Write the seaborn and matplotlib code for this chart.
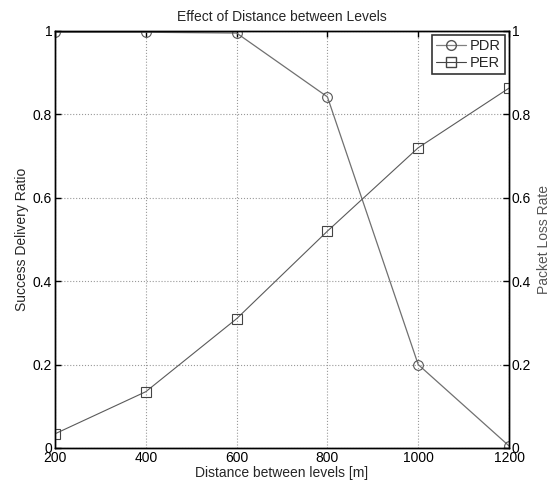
import matplotlib
matplotlib.use('Agg')
import matplotlib.pyplot as plt
import seaborn as sns
import pandas as pd
from matplotlib.lines import Line2D

distance = [200, 400, 600, 800, 1000, 1200]
pdr = [0.997, 0.997, 0.995, 0.842, 0.200, 0.005]
per = [0.034, 0.135, 0.310, 0.520, 0.720, 0.863]

sns.set_style('white')
plt.rcParams['font.family'] = ['Liberation Sans', 'DejaVu Sans']
plt.rcParams['font.size'] = 10

df = pd.DataFrame({'distance': distance, 'PDR': pdr, 'PER': per})

fig = plt.figure(figsize=(5.54, 4.84), dpi=100)
ax = fig.add_axes([0.0993, 0.0744, 0.8195, 0.8616])
ax2 = ax.twinx()

sns.lineplot(data=df, x='distance', y='PDR', ax=ax, color='#707070', lw=0.9,
             marker='o', markersize=7, markerfacecolor='none',
             markeredgecolor='#555555', markeredgewidth=0.8)
sns.lineplot(data=df, x='distance', y='PER', ax=ax2, color='#5a5a5a', lw=0.8,
             marker='s', markersize=7, markerfacecolor='none',
             markeredgecolor='#444444', markeredgewidth=0.8)

for a in (ax, ax2):
    a.set_xlim(200, 1200)
    a.set_ylim(0, 1)
    a.set_yticks([0, 0.2, 0.4, 0.6, 0.8, 1])
    a.set_yticklabels(['0', '0.2', '0.4', '0.6', '0.8', '1'])
    a.tick_params(direction='in', length=4, width=1, labelsize=10, pad=2,
                  colors='black')
    for s in a.spines.values():
        s.set_color('black')
        s.set_linewidth(1)

ax.set_xticks([200, 400, 600, 800, 1000, 1200])
ax.grid(True, linestyle=':', color='#999999', linewidth=0.8)
ax.tick_params(top=True)

ax.set_xlabel('Distance between levels [m]', fontsize=10, labelpad=1)
ax.set_ylabel('Success Delivery Ratio', fontsize=10, labelpad=3)
ax2.set_ylabel('Packet Loss Rate', fontsize=10, color='#555555', labelpad=4)
ax.set_title('Effect of Distance between Levels', fontsize=10, pad=7)

handles = [
    Line2D([], [], color='#808080', lw=0.9, marker='o', markersize=7,
           markerfacecolor='none', markeredgecolor='#555555'),
    Line2D([], [], color='#444444', lw=0.8, marker='s', markersize=7,
           markerfacecolor='none', markeredgecolor='#444444'),
]
leg = ax2.legend(handles, ['PDR', 'PER'], loc='upper right', fontsize=10.5,
                 frameon=True, fancybox=False, borderpad=0.3,
                 handlelength=2.0, handletextpad=0.3, labelspacing=0.2,
                 borderaxespad=0.25)
leg.get_frame().set_edgecolor('black')
leg.get_frame().set_linewidth(1.2)

fig.savefig('out.png', dpi=100)
